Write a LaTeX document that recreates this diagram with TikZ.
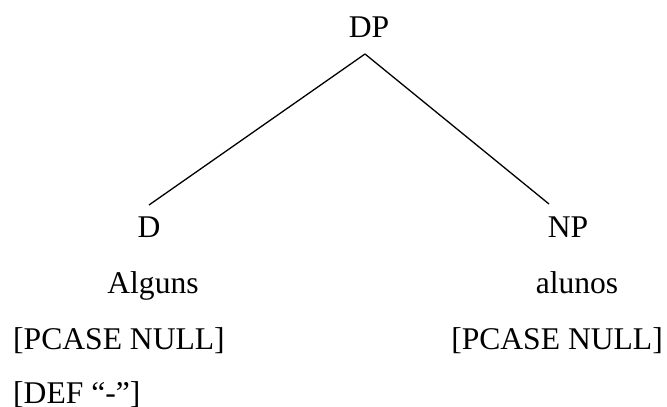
\documentclass[tikz,border=0pt]{standalone}
\usepackage{fontspec}
\setmainfont{Liberation Serif}
\begin{document}
\begin{tikzpicture}[x=1pt,y=-1pt,
  lbl/.style={inner sep=0pt,font=\fontsize{31.6}{38}\selectfont},
  branch/.style={line width=1.3pt}]
\useasboundingbox (0,0) rectangle (667,407);
% category labels
\node[lbl,anchor=base] (dp) at (369,37) {DP};
\node[lbl,anchor=base] (d) at (149,237) {D};
\node[lbl,anchor=base] (np) at (568,237) {NP};
% lexical items and features
\node[lbl,anchor=base] (alguns) at (153,293) {Alguns};
\node[lbl,anchor=base] (alunos) at (577,293) {alunos};
\node[lbl,anchor=base west] (pcl) at (13,349) {[PCASE NULL]};
\node[lbl,anchor=base east] (pcr) at (663,349) {[PCASE NULL]};
\node[lbl,anchor=base west] (def) at (13,403) {[DEF “-”]};
% branches
\coordinate (apex) at (365,54);
\coordinate (lend) at (149,205);
\coordinate (rend) at (549,204);
\draw[branch] (apex) -- (lend);
\draw[branch] (apex) -- (rend);
\end{tikzpicture}
\end{document}
